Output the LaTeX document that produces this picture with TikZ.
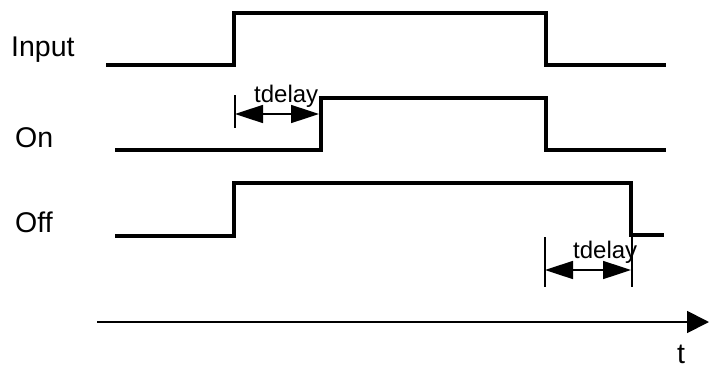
\documentclass[tikz,border=0pt]{standalone}
\usepackage{fontspec}
\setmainfont{Liberation Sans}
\usetikzlibrary{arrows.meta}
\begin{document}
\begin{tikzpicture}[x=1pt,y=-1pt,
  signal/.style={line width=3.2pt, line join=miter},
  tick/.style={line width=1.6pt},
  dimarrow/.style={line width=1.6pt, {Triangle[length=28pt,width=18pt]}-{Triangle[length=28pt,width=18pt]}},
  axis/.style={line width=1.8pt, -{Triangle[length=22pt,width=22pt]}},
  lbl/.style={font=\fontsize{28.5}{31}\selectfont, anchor=base west, inner sep=0pt},
  dlbl/.style={font=\fontsize{24}{27}\selectfont, anchor=base west, inner sep=0pt}]
\useasboundingbox (0,0) rectangle (709,370);
% labels
\node[lbl] (input) at (11,56) {Input};
\node[lbl] (on) at (15,147) {On};
\node[lbl] (off) at (15,232) {Off};
% signals
\draw[signal] (106,65) -- (234,65) -- (234,13) -- (546,13) -- (546,65) -- (666,65);
\draw[signal] (115,150) -- (321,150) -- (321,98) -- (546,98) -- (546,150) -- (666,150);
\draw[signal] (115,236) -- (234,236) -- (234,183) -- (631,183) -- (631,235) -- (664,235);
% tdelay 1
\coordinate (d1a) at (235,95);
\coordinate (d1b) at (235,128);
\draw[tick] (d1a) -- (d1b);
\coordinate (d1l) at (235,114);
\coordinate (d1r) at (319,114);
\draw[dimarrow] (d1l) -- (d1r);
\node[dlbl] (td1) at (254,102) {tdelay};
% tdelay 2
\coordinate (d2a) at (545,237);
\coordinate (d2b) at (545,287);
\draw[tick] (d2a) -- (d2b);
\coordinate (d2c) at (632,235);
\coordinate (d2d) at (632,287);
\draw[tick] (d2c) -- (d2d);
\coordinate (d2l) at (545,270);
\coordinate (d2r) at (631,270);
\draw[dimarrow] (d2l) -- (d2r);
\node[dlbl] (td2) at (573,258) {tdelay};
% time axis
\coordinate (ax0) at (97,322);
\coordinate (ax1) at (709,322);
\draw[axis] (ax0) -- (ax1);
\node[lbl] (t) at (677,363) {t};
\end{tikzpicture}
\end{document}
